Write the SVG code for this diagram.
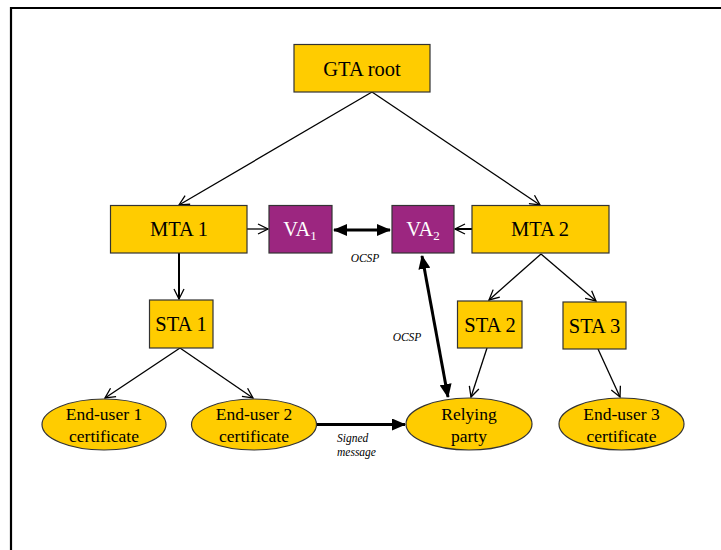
<svg xmlns="http://www.w3.org/2000/svg" width="721" height="550" viewBox="0 0 721 550">
<style>
.box{fill:#FFCC00;stroke:#333;stroke-width:1.2}
.va{fill:#9C2680;stroke:#333;stroke-width:1.2}
.t{font-family:"Liberation Serif",serif;font-size:20.5px;fill:#000;text-anchor:middle}
.tw{font-family:"Liberation Serif",serif;font-size:20.5px;fill:#fff;text-anchor:middle}
.te{font-family:"Liberation Serif",serif;font-size:17.5px;fill:#000;text-anchor:middle}
.lbl{font-family:"Liberation Serif",serif;font-size:11.5px;font-style:italic;fill:#000}
.thin{stroke:#000;stroke-width:1.3;fill:none;marker-end:url(#open)}
.thick{stroke:#000;stroke-width:3;fill:none}
</style>
<defs>
<marker id="open" viewBox="0 0 12 12" refX="11" refY="6" markerWidth="12" markerHeight="12" markerUnits="userSpaceOnUse" orient="auto">
<path d="M1,1 L11,6 L1,11" fill="none" stroke="#000" stroke-width="1.3"/>
</marker>
<marker id="fill" viewBox="0 0 14 12" refX="13" refY="6" markerWidth="14" markerHeight="12" markerUnits="userSpaceOnUse" orient="auto-start-reverse">
<path d="M0,0 L14,6 L0,12 Z" fill="#000"/>
</marker>
</defs>
<rect width="721" height="550" fill="#fff"/>
<path d="M11,550 V8 H721" fill="none" stroke="#000" stroke-width="2.2"/>
<g id="connectors">
<line class="thin" x1="372" y1="92" x2="179" y2="205"/>
<line class="thin" x1="372" y1="92" x2="540" y2="205"/>
<line class="thin" x1="247" y1="229" x2="268" y2="229"/>
<line class="thin" x1="472" y1="229" x2="455" y2="229" style="stroke-width:2"/>
<line class="thick" x1="334" y1="230" x2="390" y2="230" marker-start="url(#fill)" marker-end="url(#fill)"/>
<line class="thin" x1="179" y1="253" x2="179" y2="299" style="stroke-width:2"/>
<line class="thin" x1="541" y1="254" x2="489" y2="300"/>
<line class="thin" x1="541" y1="254" x2="596" y2="301"/>
<line class="thin" x1="180" y1="348" x2="105" y2="398"/>
<line class="thin" x1="180" y1="348" x2="253" y2="398"/>
<line class="thin" x1="487" y1="348" x2="471" y2="397"/>
<line class="thin" x1="598" y1="349" x2="620" y2="397"/>
<line class="thick" x1="422" y1="256" x2="448" y2="397" marker-start="url(#fill)" marker-end="url(#fill)"/>
<line class="thick" x1="317" y1="424.5" x2="405" y2="424.5" marker-end="url(#fill)"/>
</g>
<g id="gta-root"><rect class="box" x="294" y="44.5" width="136" height="47.5"/><text class="t" x="362" y="76">GTA root</text></g>
<g id="mta1"><rect class="box" x="110.5" y="205.5" width="136.5" height="47.5"/><text class="t" x="179" y="236">MTA 1</text></g>
<g id="va1"><rect class="va" x="269" y="205.5" width="63" height="47.5"/><text class="tw" x="300" y="236">VA<tspan font-size="13" dy="4">1</tspan></text></g>
<g id="va2"><rect class="va" x="392" y="205.5" width="62" height="47.5"/><text class="tw" x="423" y="236">VA<tspan font-size="13" dy="4">2</tspan></text></g>
<g id="mta2"><rect class="box" x="472" y="205.5" width="137" height="47.5"/><text class="t" x="540" y="236">MTA 2</text></g>
<g id="sta1"><rect class="box" x="149.5" y="300" width="63.5" height="48"/><text class="t" x="181" y="331">STA 1</text></g>
<g id="sta2"><rect class="box" x="457.5" y="301" width="64.5" height="47"/><text class="t" x="490" y="332">STA 2</text></g>
<g id="sta3"><rect class="box" x="563" y="302" width="63" height="47"/><text class="t" x="594.5" y="333">STA 3</text></g>
<g id="eu1"><ellipse class="box" cx="104" cy="424.5" rx="62" ry="25.5"/><text class="te" x="104" y="420">End-user 1</text><text class="te" x="104" y="442">certificate</text></g>
<g id="eu2"><ellipse class="box" cx="254" cy="424.5" rx="62.5" ry="25.5"/><text class="te" x="254" y="420">End-user 2</text><text class="te" x="254" y="442">certificate</text></g>
<g id="rp"><ellipse class="box" cx="469" cy="424" rx="63" ry="26"/><text class="te" x="469" y="420">Relying</text><text class="te" x="469" y="442">party</text></g>
<g id="eu3"><ellipse class="box" cx="621.5" cy="424" rx="62.5" ry="26"/><text class="te" x="621.5" y="420">End-user 3</text><text class="te" x="621.5" y="442">certificate</text></g>
<g id="labels">
<text class="lbl" x="365" y="262" text-anchor="middle">OCSP</text>
<text class="lbl" x="407" y="341" text-anchor="middle">OCSP</text>
<text class="lbl" x="337" y="442">Signed</text>
<text class="lbl" x="337" y="456">message</text>
</g>
</svg>
